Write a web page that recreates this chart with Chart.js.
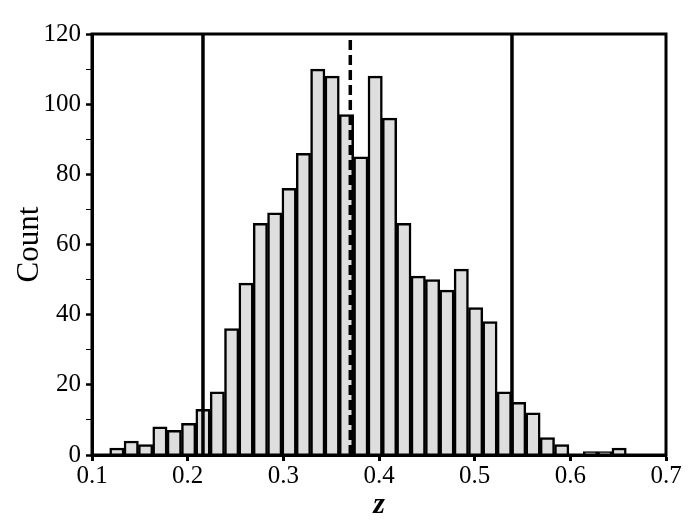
<!DOCTYPE html>
<html>
<head>
<meta charset="utf-8">
<script src="https://cdn.jsdelivr.net/npm/chart.js@4"></script>
<style>
  body { margin: 0; background: #fff; }
  canvas { display: block; }
</style>
</head>
<body>
<canvas id="histZ" width="700" height="531"></canvas>
<script>
// bin centres (bin width 0.015) and counts
const binCenters = [0.126, 0.141, 0.156, 0.171, 0.186, 0.201, 0.216, 0.231, 0.246, 0.261,
  0.276, 0.291, 0.306, 0.321, 0.336, 0.351, 0.366, 0.381, 0.396, 0.411,
  0.426, 0.441, 0.456, 0.471, 0.486, 0.501, 0.516, 0.531, 0.546, 0.561,
  0.576, 0.591, 0.606, 0.621, 0.636, 0.651];
const counts = [2, 4, 3, 8, 7, 9, 13, 18, 36, 49,
  66, 69, 76, 86, 110, 108, 97, 85, 108, 96,
  66, 51, 50, 47, 53, 42, 38, 18, 15, 12,
  5, 3, 0, 1, 1, 2];

// vertical reference lines
const lowerBound = 0.216;
const meanZ = 0.370;
const upperBound = 0.539;
const lineSpan = [0, 120];

const xTicks = [0.1, 0.2, 0.3, 0.4, 0.5, 0.6, 0.7];
const yTicks = [0, 20, 40, 60, 80, 100, 120];

const serif = 'Liberation Serif';

function vline(xv, dashed) {
  return {
    type: 'line',
    data: lineSpan.map(y => ({x: xv, y: y})),
    borderColor: '#000',
    borderWidth: 3.5,
    borderDash: dashed ? [10, 5] : [],
    pointRadius: 0,
    order: 0
  };
}

// box round the plot area
const frame = {
  id: 'frame',
  afterDraw(chart) {
    const {ctx, chartArea: a} = chart;
    ctx.save();
    ctx.strokeStyle = '#000';
    ctx.lineWidth = 3;
    ctx.strokeRect(a.left, a.top, a.right - a.left, a.bottom - a.top);
    ctx.restore();
  }
};

const ctx = document.getElementById('histZ');

new Chart(ctx, {
  data: {
    datasets: [
      {
        type: 'bar',
        data: binCenters.map((c, i) => ({x: c, y: counts[i]})),
        backgroundColor: '#dedede',
        borderColor: '#000',
        borderWidth: 2.5,
        barPercentage: 1,
        categoryPercentage: 1,
        order: 1
      },
      vline(lowerBound, false),
      vline(meanZ, true),
      vline(upperBound, false)
    ]
  },
  options: {
    responsive: false,
    animation: false,
    layout: { padding: { left: 0, top: 34, right: 34, bottom: 0 } },
    plugins: { legend: { display: false }, tooltip: { enabled: false } },
    scales: {
      x: {
        type: 'linear',
        min: 0.1,
        max: 0.7,
        offset: false,
        afterFit(s) { s.height = 76; },
        afterBuildTicks(s) { s.ticks = xTicks.map(v => ({value: v})); },
        ticks: {
          color: '#000',
          font: { family: serif, size: 25 },
          padding: 0,
          maxRotation: 0,
          callback: v => v.toFixed(1)
        },
        grid: { offset: false, drawOnChartArea: false, tickLength: 6, tickWidth: 3, tickColor: '#000' },
        border: { color: '#000', width: 3 },
        title: {
          display: true,
          text: 'z',
          color: '#000',
          font: { family: serif, size: 30, style: 'italic', weight: 'bold' },
          padding: { top: 0, bottom: 8 }
        }
      },
      y: {
        min: 0,
        max: 120,
        afterFit(s) { s.width = 92; },
        ticks: {
          stepSize: 10,
          autoSkip: false,
          color: '#000',
          font: { family: serif, size: 25 },
          padding: 5,
          callback: v => (yTicks.includes(v) ? v : '')
        },
        grid: {
          drawOnChartArea: false,
          tickLength: 6,
          tickWidth: c => (c.tick && c.tick.value % 20 === 0 ? 2.5 : 1),
          tickColor: '#000'
        },
        border: { color: '#000', width: 3 },
        title: {
          display: true,
          text: 'Count',
          color: '#000',
          font: { family: serif, size: 31 },
          padding: { top: 11, bottom: 0 }
        }
      }
    }
  },
  plugins: [frame]
});
</script>
</body>
</html>
